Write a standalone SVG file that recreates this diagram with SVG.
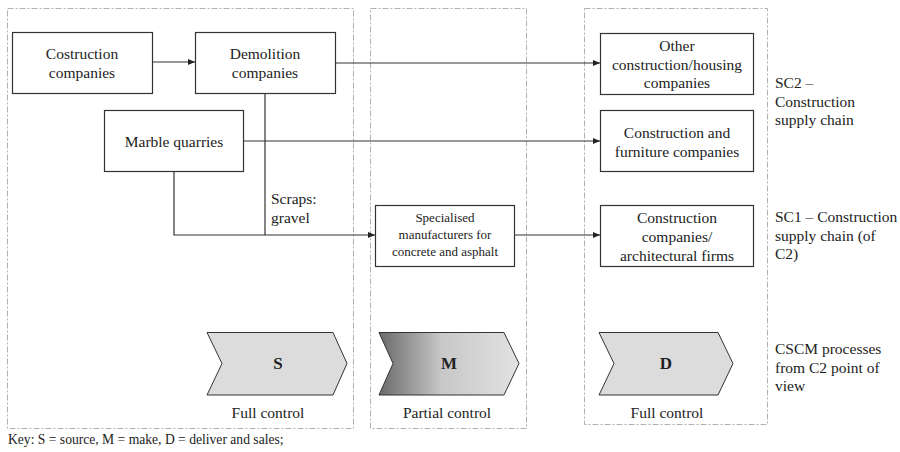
<svg xmlns="http://www.w3.org/2000/svg" width="900" height="452" viewBox="0 0 900 452" font-family="Liberation Serif, Times New Roman, serif">
<style>
text{font-family:'Liberation Serif','Times New Roman',serif;font-size:15.5px;fill:#222}
.c{text-anchor:middle}
.sm{font-size:13px}
.key{font-size:13.6px}
.b{font-weight:bold;font-size:17px}
.zone{fill:none;stroke:#b0b0b0;stroke-width:1;stroke-dasharray:6 2 2 2}
.box{fill:#fff;stroke:#333;stroke-width:1.2}
.ln{fill:none;stroke:#333;stroke-width:1.2}
.chev{stroke:#333;stroke-width:1}
</style>
<defs>
<marker id="ah" markerWidth="8" markerHeight="8" refX="7" refY="4" orient="auto" markerUnits="userSpaceOnUse">
<path d="M0,1 L7,4 L0,7 z" fill="#222"/>
</marker>
<linearGradient id="mg" x1="0" y1="0" x2="1" y2="0">
<stop offset="0" stop-color="#6a6a6a"/>
<stop offset="0.45" stop-color="#c8c8c8"/>
<stop offset="1" stop-color="#e2e2e2"/>
</linearGradient>
</defs>
<g id="zones">
<rect class="zone" x="7.5" y="8.5" width="346" height="420"/>
<rect class="zone" x="370.5" y="8.5" width="156" height="420"/>
<rect class="zone" x="584.5" y="8.5" width="183" height="416"/>
</g>
<g id="connectors">
<path class="ln" d="M153,62 L195,62" marker-end="url(#ah)"/>
<path class="ln" d="M335,63 L600,63" marker-end="url(#ah)"/>
<path class="ln" d="M243,141 L600,141" marker-end="url(#ah)"/>
<path class="ln" d="M265,93 L265,235"/>
<path class="ln" d="M174,171 L174,235 L375,235" marker-end="url(#ah)"/>
<path class="ln" d="M514,235 L600,235" marker-end="url(#ah)"/>
</g>
<g id="costruction"><rect class="box" x="12.5" y="32.5" width="140" height="61"/>
<text class="c" x="82" y="59">Costruction</text><text class="c" x="82" y="78">companies</text></g>
<g id="demolition"><rect class="box" x="195.5" y="32.5" width="140" height="61"/>
<text class="c" x="265" y="59">Demolition</text><text class="c" x="265" y="78">companies</text></g>
<g id="marble"><rect class="box" x="104.5" y="110.5" width="139" height="61"/>
<text class="c" x="174" y="147">Marble quarries</text></g>
<g id="scraps"><text x="271" y="204">Scraps:</text><text x="271" y="223">gravel</text></g>
<g id="specialised"><rect class="box" x="375.5" y="205.5" width="139" height="61"/>
<text class="c sm" x="445" y="222">Specialised</text><text class="c sm" x="445" y="239">manufacturers for</text><text class="c sm" x="445" y="256">concrete and asphalt</text></g>
<g id="other"><rect class="box" x="600.5" y="33.5" width="153" height="61"/>
<text class="c" x="677" y="51">Other</text><text class="c" x="677" y="70">construction/housing</text><text class="c" x="677" y="88">companies</text></g>
<g id="furniture"><rect class="box" x="600.5" y="110.5" width="153" height="61"/>
<text class="c" x="677" y="138">Construction and</text><text class="c" x="677" y="157">furniture companies</text></g>
<g id="architects"><rect class="box" x="600.5" y="205.5" width="153" height="61"/>
<text class="c" x="677" y="223">Construction</text><text class="c" x="677" y="242">companies/</text><text class="c" x="677" y="261">architectural firms</text></g>
<g id="s-proc"><path class="chev" fill="#dcdcdc" d="M207,332.5 L333,332.5 L347,363.5 L333,395 L207,395 L222,363.5 z"/>
<text class="c b" x="278" y="369">S</text><text class="c" x="268" y="418">Full control</text></g>
<g id="m-proc"><path class="chev" fill="url(#mg)" d="M379,332.5 L504,332.5 L519,363.5 L504,395 L379,395 L393,363.5 z"/>
<text class="c b" x="449" y="369">M</text><text class="c" x="447" y="418">Partial control</text></g>
<g id="d-proc"><path class="chev" fill="#dcdcdc" d="M599,332.5 L718,332.5 L733,363.5 L718,395 L599,395 L614,363.5 z"/>
<text class="c b" x="666" y="369">D</text><text class="c" x="667" y="418">Full control</text></g>
<g id="labels">
<text x="775" y="88">SC2 –</text><text x="775" y="107">Construction</text><text x="775" y="125">supply chain</text>
<text x="775" y="222">SC1 – Construction</text><text x="775" y="241">supply chain (of</text><text x="775" y="259">C2)</text>
<text x="775" y="354">CSCM processes</text><text x="775" y="373">from C2 point of</text><text x="775" y="391">view</text>
<text class="key" x="8" y="444">Key: S = source, M = make, D = deliver and sales;</text>
</g>
</svg>
